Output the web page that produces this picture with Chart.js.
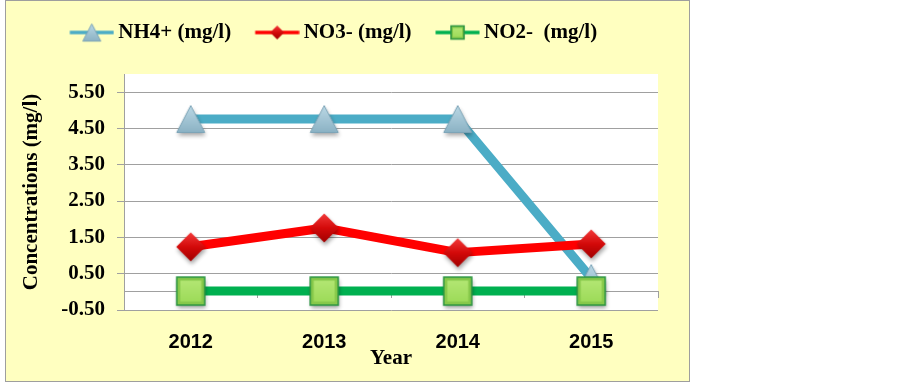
<!DOCTYPE html>
<html>
<head>
<meta charset="utf-8">
<script src="https://cdn.jsdelivr.net/npm/chart.js@4.4.1/dist/chart.umd.min.js"></script>
<style>
  html, body { margin: 0; padding: 0; background: #ffffff; }
  #box {
    position: absolute;
    left: 5px;
    top: 0px;
    width: 683px;
    height: 380px;
    background: #ffffc0;
    border: 1px solid #9e9e9e;
  }
</style>
</head>
<body>
<div id="box"><canvas id="chart-n" width="683" height="380"></canvas></div>
<script>
// data
const years = ["2012", "2013", "2014", "2015"];
const nh4 = [4.76, 4.76, 4.76, 0.38];
const no3 = [1.24, 1.76, 1.08, 1.32];
const no2 = [0.02, 0.02, 0.02, 0.02];
const yTicks = [-0.5, 0.5, 1.5, 2.5, 3.5, 4.5, 5.5];

const serif = "'Liberation Serif', 'Times New Roman', serif";
const sans = "'Liberation Sans', Arial, sans-serif";
const gridGray = "#a0a0a0";

// draw one marker shape centred on (cx, cy)
function drawShape(ctx, kind, cx, cy, s) {
  let g;
  if (kind === "triangle") {
    g = ctx.createLinearGradient(0, cy - s, 0, cy + s);
    g.addColorStop(0, "#bcd9e6");
    g.addColorStop(1, "#8ab1c3");
    ctx.beginPath();
    ctx.moveTo(cx, cy - s * 0.96);
    ctx.lineTo(cx + s, cy + s * 0.96);
    ctx.lineTo(cx - s, cy + s * 0.96);
    ctx.closePath();
    ctx.fillStyle = g;
    ctx.fill();
    ctx.shadowColor = "transparent";
    ctx.strokeStyle = "#7ba3b6";
    ctx.lineWidth = 1;
    ctx.stroke();
  } else if (kind === "diamond") {
    g = ctx.createLinearGradient(0, cy - s, 0, cy + s);
    g.addColorStop(0, "#f23a3a");
    g.addColorStop(0.5, "#d40a0a");
    g.addColorStop(1, "#a00000");
    ctx.beginPath();
    ctx.moveTo(cx, cy - s);
    ctx.lineTo(cx + s, cy);
    ctx.lineTo(cx, cy + s);
    ctx.lineTo(cx - s, cy);
    ctx.closePath();
    ctx.fillStyle = g;
    ctx.fill();
  } else {
    ctx.fillStyle = "#86c84a";
    ctx.fillRect(cx - s, cy - s, 2 * s, 2 * s);
    ctx.shadowColor = "transparent";
    const inset = Math.max(2, s * 0.25);
    g = ctx.createLinearGradient(0, cy - s, 0, cy + s);
    g.addColorStop(0, "#b6e877");
    g.addColorStop(1, "#9ad955");
    ctx.fillStyle = g;
    ctx.fillRect(cx - s + inset, cy - s + inset, 2 * (s - inset), 2 * (s - inset));
    ctx.strokeStyle = "#2a9440";
    ctx.lineWidth = 1.5;
    ctx.strokeRect(cx - s, cy - s, 2 * s, 2 * s);
  }
}

// big markers for the plot, with a soft shadow
function makeMarker(kind, s) {
  const c = document.createElement("canvas");
  c.width = 42;
  c.height = 42;
  const ctx = c.getContext("2d");
  ctx.shadowColor = "rgba(0,0,0,0.35)";
  ctx.shadowBlur = 4;
  ctx.shadowOffsetX = 1;
  ctx.shadowOffsetY = 3;
  drawShape(ctx, kind, 21, 21, s);
  return c;
}

// small line + marker icon for the legend
function makeLegendIcon(kind, color, s) {
  const c = document.createElement("canvas");
  c.width = 54;
  c.height = 22;
  const ctx = c.getContext("2d");
  ctx.strokeStyle = color;
  ctx.lineWidth = 3.5;
  ctx.beginPath();
  ctx.moveTo(9.5, 11);
  ctx.lineTo(53.5, 11);
  ctx.stroke();
  drawShape(ctx, kind, 31.5, 11, s);
  return c;
}

const legendIcons = [
  makeLegendIcon("triangle", "#4bacc6", 9),
  makeLegendIcon("diamond", "#ff0000", 7),
  makeLegendIcon("square", "#00b050", 6.5),
];

// white plot area on the yellow background
const plotBackground = {
  id: "plotBackground",
  beforeDraw(chart) {
    const { ctx, chartArea } = chart;
    ctx.save();
    ctx.fillStyle = "#ffffff";
    ctx.fillRect(chartArea.left, chartArea.top, chartArea.right - chartArea.left, chartArea.bottom - chartArea.top);
    ctx.restore();
  },
};

const ctxN = document.getElementById("chart-n");
new Chart(ctxN, {
  type: "line",
  data: {
    labels: years,
    datasets: [
      {
        label: "NH4+ (mg/l)",
        data: nh4,
        order: 3,
        borderColor: "#4bacc6",
        backgroundColor: "#4bacc6",
        borderWidth: 9,
        pointStyle: makeMarker("triangle", 14),
        pointRadius: 10,
      },
      {
        label: "NO3- (mg/l)",
        data: no3,
        order: 2,
        borderColor: "#ff0000",
        backgroundColor: "#ff0000",
        borderWidth: 9,
        pointStyle: makeMarker("diamond", 14.5),
        pointRadius: 10,
      },
      {
        label: "NO2-  (mg/l)",
        data: no2,
        order: 1,
        borderColor: "#00b050",
        backgroundColor: "#00b050",
        borderWidth: 9,
        pointStyle: makeMarker("square", 14),
        pointRadius: 10,
      },
    ],
  },
  options: {
    responsive: false,
    animation: false,
    layout: { padding: { left: 0, right: 31, top: 0, bottom: 0 } },
    elements: { line: { tension: 0, borderJoinStyle: "round" } },
    plugins: {
      tooltip: { enabled: false },
      legend: {
        position: "top",
        weight: 3000,
        labels: {
          usePointStyle: true,
          pointStyleWidth: 41,
          padding: 21,
          color: "#000000",
          font: { family: serif, size: 21, weight: "bold" },
          sort: (a, b) => a.datasetIndex - b.datasetIndex,
          generateLabels(chart) {
            const items = Chart.defaults.plugins.legend.labels.generateLabels(chart);
            items.forEach((item) => {
              item.pointStyle = legendIcons[item.datasetIndex];
            });
            return items;
          },
        },
      },
      // empty subtitle used as the gap between legend and plot
      subtitle: {
        display: true,
        text: "",
        padding: 0,
        font: { size: 21, lineHeight: 1 },
      },
    },
    scales: {
      x: {
        offset: true,
        grid: { display: false, drawTicks: false },
        border: { display: false },
        ticks: {
          color: "#000000",
          padding: 20,
          font: { family: sans, size: 20, weight: "bold" },
        },
        title: {
          display: true,
          text: "Year",
          color: "#000000",
          padding: { top: 0, bottom: 10 },
          font: { family: serif, size: 21, weight: "bold" },
        },
        afterFit(scale) {
          scale.height = 71;
        },
      },
      // category axis line crossing at zero
      x0: {
        type: "category",
        position: { y: 0 },
        offset: true,
        grid: {
          offset: true,
          drawOnChartArea: false,
          drawTicks: true,
          tickLength: 6,
          color: gridGray,
        },
        border: { display: true, color: gridGray, width: 1 },
        ticks: { display: false },
      },
      y: {
        min: -0.5,
        max: 6,
        afterBuildTicks(axis) {
          axis.ticks = yTicks.map((v) => ({ value: v }));
        },
        grid: { color: gridGray, tickLength: 7, drawTicks: true },
        border: { display: true, color: gridGray, width: 1 },
        ticks: {
          color: "#000000",
          padding: 12,
          font: { family: serif, size: 21, weight: "bold" },
          callback: (v) => Number(v).toFixed(2),
        },
        title: {
          display: true,
          text: "Concentrations (mg/l)",
          color: "#000000",
          padding: { top: 13, bottom: 0 },
          font: { family: serif, size: 21, weight: "bold" },
        },
        afterFit(scale) {
          scale.width = 118;
        },
      },
    },
  },
  plugins: [plotBackground],
});
</script>
</body>
</html>
